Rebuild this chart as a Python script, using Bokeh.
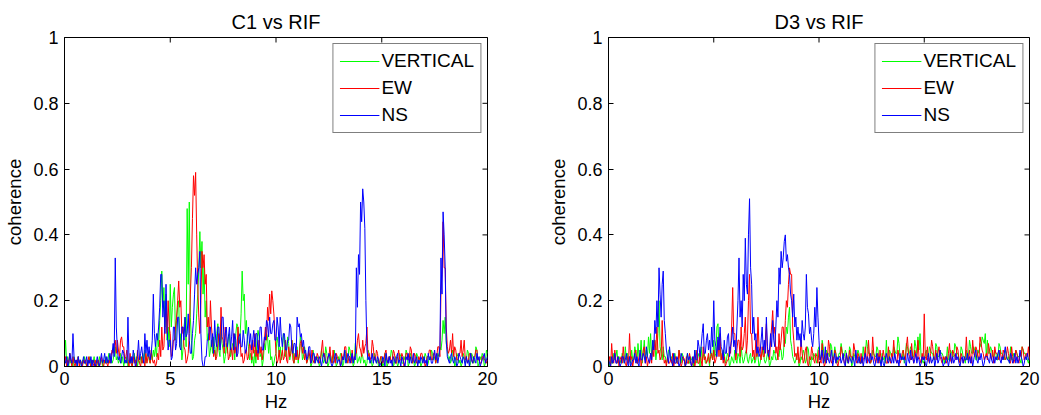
import math
from bokeh.plotting import figure
from bokeh.layouts import row
from bokeh.models import Range1d, FixedTicker
from bokeh.embed import file_html
from bokeh.resources import INLINE

# frequency grid (Hz), 0.05 Hz spacing
FREQ = [i / 20 for i in range(401)]

# coherence values in hundredths (0.01 units); one line per Hz
C1_VERTICAL = [
    2, 8, 1, 3, 0, 4, 1, 2, 0, 3, 1, 2, 0, 3, 1, 2, 0, 2, 1, 3,
    1, 0, 2, 1, 3, 0, 2, 1, 3, 0, 1, 2, 0, 3, 1, 2, 0, 2, 1, 3,
    1, 2, 4, 1, 3, 1, 2, 4, 6, 2, 3, 1, 2, 4, 1, 3, 0, 2, 1, 3,
    0, 2, 1, 3, 0, 2, 4, 1, 3, 0, 2, 1, 3, 1, 4, 2, 5, 1, 3, 4,
    2, 1, 4, 2, 5, 3, 6, 3, 10, 6, 14, 20, 29, 18, 24, 12, 22, 8, 12, 6,
    25, 12, 18, 22, 24, 8, 14, 18, 20, 6, 10, 2, 5, 12, 15, 6, 48, 25, 50, 15,
    8, 2, 3, 8, 10, 16, 22, 30, 41, 30, 38, 22, 30, 15, 20, 8, 10, 3, 5, 8,
    4, 9, 6, 2, 10, 13, 5, 3, 12, 7, 5, 1, 3, 7, 4, 9, 10, 3, 5, 7,
    6, 2, 10, 13, 12, 7, 9, 16, 29, 20, 22, 10, 14, 8, 6, 2, 4, 1, 3, 0,
    5, 1, 8, 11, 9, 3, 4, 0, 2, 7, 5, 10, 9, 4, 8, 2, 3, 0, 1, 3,
    4, 9, 7, 3, 6, 2, 4, 10, 8, 3, 5, 9, 7, 2, 4, 8, 6, 1, 3, 6,
    6, 1, 4, 9, 7, 2, 3, 6, 4, 1, 2, 4, 3, 0, 1, 5, 3, 1, 2, 3,
    2, 0, 1, 5, 3, 1, 2, 6, 4, 0, 1, 4, 3, 1, 2, 5, 3, 0, 1, 3,
    2, 4, 3, 0, 1, 5, 4, 1, 2, 6, 5, 2, 3, 0, 1, 7, 5, 1, 2, 3,
    1, 4, 3, 1, 2, 0, 1, 5, 4, 1, 2, 0, 1, 4, 3, 1, 2, 0, 1, 3,
    2, 0, 1, 4, 3, 0, 1, 3, 2, 5, 4, 0, 1, 3, 2, 0, 1, 4, 3, 1,
    1, 3, 2, 5, 4, 0, 1, 4, 3, 1, 2, 0, 1, 4, 3, 1, 2, 0, 1, 3,
    2, 4, 3, 0, 1, 3, 2, 5, 4, 2, 3, 1, 2, 4, 3, 6, 5, 8, 14, 10,
    15, 7, 5, 2, 3, 1, 2, 5, 4, 0, 1, 4, 3, 1, 2, 0, 1, 4, 3, 1,
    2, 5, 4, 0, 1, 4, 3, 1, 2, 6, 5, 0, 1, 3, 2, 4, 3, 0, 1, 5,
    4,
]
C1_EW = [
    1, 3, 0, 2, 1, 4, 2, 0, 3, 1, 0, 2, 1, 3, 0, 2, 1, 0, 2, 1,
    2, 0, 1, 3, 1, 0, 2, 1, 0, 2, 0, 1, 2, 0, 1, 3, 1, 0, 2, 1,
    1, 0, 2, 1, 3, 5, 4, 7, 8, 4, 8, 5, 3, 8, 9, 6, 6, 2, 3, 5,
    2, 0, 4, 1, 0, 3, 1, 2, 0, 5, 2, 1, 0, 3, 1, 2, 0, 4, 1, 3,
    3, 1, 5, 2, 1, 2, 0, 1, 4, 2, 8, 3, 12, 5, 6, 14, 18, 10, 20, 12,
    10, 3, 4, 8, 8, 12, 15, 20, 26, 18, 20, 10, 12, 6, 5, 1, 2, 4, 10, 22,
    30, 45, 58, 52, 59, 40, 25, 15, 10, 20, 35, 30, 34, 25, 28, 12, 15, 8, 20, 12,
    8, 3, 5, 2, 3, 7, 10, 6, 18, 9, 8, 4, 12, 6, 6, 2, 3, 6, 5, 2,
    10, 4, 6, 3, 12, 7, 8, 3, 4, 1, 2, 5, 5, 2, 3, 7, 6, 2, 8, 4,
    10, 3, 5, 2, 8, 4, 6, 2, 5, 8, 12, 8, 18, 14, 22, 16, 23, 20, 16, 10,
    4, 1, 2, 5, 1, 3, 5, 2, 3, 8, 2, 1, 6, 3, 4, 8, 2, 1, 4, 2,
    5, 2, 3, 7, 8, 4, 6, 2, 4, 1, 2, 5, 3, 1, 5, 2, 1, 3, 2, 4,
    3, 1, 2, 5, 8, 3, 4, 1, 1, 3, 3, 6, 2, 1, 5, 2, 1, 4, 3, 2,
    2, 0, 4, 2, 3, 6, 6, 2, 1, 3, 3, 1, 5, 2, 2, 4, 4, 8, 10, 6,
    5, 3, 8, 4, 6, 7, 12, 3, 4, 2, 3, 8, 6, 2, 2, 5, 4, 1, 1, 3,
    3, 1, 2, 4, 5, 2, 1, 3, 3, 1, 2, 5, 4, 1, 1, 3, 5, 2, 2, 4,
    3, 0, 1, 4, 4, 2, 2, 6, 5, 1, 2, 4, 3, 1, 1, 3, 2, 4, 4, 2,
    2, 0, 1, 3, 3, 5, 5, 2, 2, 4, 4, 1, 3, 6, 6, 3, 23, 28, 44, 30,
    30, 12, 6, 4, 5, 8, 4, 10, 3, 6, 5, 2, 2, 4, 4, 8, 3, 5, 8, 2,
    3, 1, 2, 4, 4, 2, 1, 3, 3, 5, 5, 2, 2, 1, 1, 3, 3, 2, 2, 1,
    2,
]
C1_NS = [
    2, 1, 3, 0, 1, 4, 2, 1, 10, 3, 1, 2, 0, 3, 1, 2, 0, 1, 3, 1,
    1, 3, 0, 2, 1, 3, 0, 2, 1, 0, 1, 3, 1, 0, 2, 4, 1, 2, 4, 1,
    3, 1, 2, 4, 1, 4, 7, 3, 33, 12, 5, 2, 3, 1, 3, 5, 4, 1, 2, 1,
    15, 2, 1, 3, 1, 5, 3, 0, 1, 3, 8, 2, 4, 6, 3, 1, 10, 4, 8, 3,
    6, 2, 4, 8, 22, 10, 6, 10, 8, 12, 18, 28, 28, 15, 20, 10, 25, 12, 5, 8,
    8, 2, 3, 12, 12, 5, 7, 15, 15, 6, 5, 12, 12, 8, 15, 9, 10, 16, 8, 4,
    4, 10, 14, 22, 30, 25, 28, 30, 35, 10, 2, 0, 0, 3, 3, 8, 8, 12, 12, 6,
    10, 4, 14, 8, 6, 12, 12, 5, 8, 15, 15, 6, 10, 12, 6, 9, 12, 5, 9, 14,
    5, 10, 8, 3, 4, 9, 10, 6, 6, 11, 8, 4, 5, 9, 12, 7, 10, 5, 8, 11,
    6, 10, 10, 4, 7, 12, 12, 5, 5, 9, 8, 14, 13, 9, 15, 10, 10, 13, 14, 8,
    8, 15, 12, 6, 15, 9, 6, 10, 10, 5, 5, 8, 8, 13, 12, 5, 4, 7, 7, 3,
    15, 12, 13, 9, 10, 6, 8, 4, 5, 2, 3, 6, 6, 1, 2, 4, 4, 1, 3, 2,
    1, 3, 2, 0, 2, 4, 3, 1, 1, 2, 4, 3, 1, 0, 1, 2, 4, 3, 1, 2,
    2, 0, 1, 3, 2, 5, 1, 2, 4, 3, 1, 2, 4, 1, 3, 2, 30, 18, 34, 28,
    50, 44, 54, 50, 42, 20, 5, 2, 3, 1, 2, 4, 1, 3, 2, 1, 3, 2, 0, 1,
    1, 3, 2, 0, 4, 2, 1, 3, 1, 2, 0, 3, 2, 1, 3, 4, 1, 2, 0, 3,
    2, 1, 0, 3, 2, 4, 1, 3, 1, 2, 4, 1, 2, 3, 0, 2, 1, 3, 2, 1,
    3, 1, 2, 0, 4, 2, 3, 1, 1, 3, 5, 2, 4, 1, 3, 6, 33, 22, 47, 40,
    30, 8, 3, 2, 1, 3, 4, 2, 1, 3, 2, 0, 1, 4, 3, 2, 1, 3, 2, 0,
    3, 1, 2, 0, 4, 2, 1, 3, 2, 1, 4, 2, 3, 0, 1, 2, 3, 4, 1, 2,
    3,
]

D3_VERTICAL = [
    2, 0, 3, 1, 1, 4, 2, 3, 5, 1, 3, 2, 1, 4, 3, 1, 6, 2, 4, 1,
    3, 1, 5, 2, 2, 6, 4, 1, 7, 3, 3, 8, 1, 4, 8, 2, 5, 3, 9, 4,
    10, 3, 6, 8, 8, 2, 5, 10, 20, 6, 4, 2, 6, 3, 3, 1, 2, 5, 5, 2,
    3, 0, 1, 4, 2, 1, 2, 5, 3, 1, 4, 3, 2, 0, 2, 4, 1, 1, 3, 2,
    2, 0, 5, 2, 1, 3, 4, 0, 6, 2, 3, 4, 1, 1, 2, 3, 0, 5, 3, 2,
    8, 3, 4, 12, 13, 5, 6, 2, 3, 5, 4, 1, 2, 4, 3, 0, 1, 3, 2, 1,
    5, 2, 1, 4, 3, 1, 6, 3, 1, 2, 4, 5, 2, 1, 3, 4, 1, 2, 3, 1,
    2, 5, 3, 0, 1, 3, 4, 6, 2, 1, 2, 4, 3, 0, 1, 3, 2, 5, 4, 2,
    2, 4, 3, 6, 5, 2, 3, 8, 7, 12, 10, 15, 18, 8, 6, 3, 2, 1, 2, 4,
    4, 0, 1, 3, 2, 5, 4, 1, 2, 6, 5, 1, 0, 3, 2, 4, 3, 2, 1, 5,
    6, 2, 3, 8, 6, 2, 1, 5, 4, 4, 3, 7, 6, 2, 3, 6, 4, 1, 2, 4,
    4, 7, 5, 2, 3, 5, 4, 1, 2, 6, 5, 0, 1, 4, 3, 2, 3, 5, 4, 1,
    2, 1, 6, 3, 3, 8, 6, 4, 4, 1, 2, 5, 4, 3, 3, 6, 5, 2, 2, 1,
    4, 2, 3, 1, 8, 2, 2, 5, 4, 3, 3, 6, 5, 4, 4, 9, 7, 3, 3, 2,
    5, 1, 2, 7, 6, 4, 4, 6, 5, 3, 3, 8, 6, 4, 9, 5, 10, 3, 2, 1,
    2, 4, 5, 3, 3, 6, 5, 4, 4, 2, 2, 7, 6, 3, 3, 5, 4, 4, 3, 1,
    3, 2, 6, 2, 2, 5, 4, 3, 3, 7, 6, 4, 4, 2, 2, 6, 5, 3, 3, 1,
    5, 2, 3, 8, 6, 4, 4, 6, 5, 2, 2, 5, 4, 7, 6, 9, 8, 7, 10, 3,
    8, 4, 4, 6, 5, 3, 3, 5, 4, 2, 2, 7, 6, 4, 4, 3, 2, 5, 4, 2,
    3, 1, 6, 2, 2, 4, 3, 5, 4, 3, 3, 2, 1, 6, 5, 4, 4, 3, 2, 1,
    3,
]
D3_EW = [
    1, 3, 0, 7, 2, 1, 5, 2, 1, 3, 0, 2, 3, 1, 6, 2, 1, 0, 3, 1,
    10, 2, 3, 0, 2, 4, 5, 1, 1, 3, 4, 0, 2, 5, 6, 1, 3, 0, 2, 1,
    4, 1, 6, 3, 8, 5, 12, 4, 5, 2, 3, 14, 4, 1, 2, 0, 3, 1, 1, 2,
    1, 4, 0, 2, 3, 1, 1, 5, 2, 0, 1, 3, 2, 0, 3, 1, 1, 4, 2, 0,
    1, 3, 0, 2, 5, 1, 1, 4, 2, 0, 6, 2, 3, 1, 2, 4, 1, 3, 4, 2,
    5, 1, 2, 4, 8, 3, 10, 2, 4, 1, 3, 0, 1, 2, 2, 6, 4, 12, 24, 10,
    10, 2, 5, 8, 8, 3, 12, 5, 6, 10, 15, 4, 8, 20, 28, 10, 10, 3, 5, 2,
    8, 3, 15, 6, 4, 2, 6, 3, 3, 8, 13, 4, 5, 2, 8, 12, 17, 10, 12, 4,
    6, 2, 10, 5, 8, 12, 12, 6, 14, 20, 18, 25, 30, 28, 28, 12, 8, 3, 4, 2,
    6, 1, 3, 8, 4, 1, 2, 5, 6, 1, 0, 3, 2, 6, 4, 2, 1, 4, 3, 1,
    5, 2, 1, 7, 3, 0, 1, 4, 2, 8, 6, 2, 1, 3, 2, 5, 4, 1, 0, 2,
    2, 6, 4, 3, 1, 1, 4, 2, 1, 5, 3, 3, 2, 7, 5, 2, 1, 4, 3, 1,
    4, 1, 2, 3, 6, 2, 1, 8, 3, 1, 2, 9, 4, 2, 1, 3, 4, 1, 5, 2,
    2, 5, 3, 3, 1, 1, 6, 2, 1, 4, 3, 8, 3, 2, 1, 5, 3, 1, 2, 4,
    5, 3, 2, 6, 9, 4, 3, 2, 7, 3, 1, 5, 4, 2, 8, 3, 2, 1, 4, 2,
    16, 3, 2, 6, 2, 1, 4, 8, 6, 3, 2, 5, 2, 4, 6, 3, 2, 1, 3, 2,
    3, 1, 2, 4, 7, 2, 1, 5, 4, 3, 2, 6, 5, 2, 1, 4, 3, 1, 2, 3,
    9, 3, 2, 5, 2, 1, 8, 4, 3, 6, 5, 3, 2, 9, 7, 5, 4, 2, 3, 4,
    2, 7, 5, 3, 2, 5, 1, 6, 4, 4, 3, 2, 5, 3, 2, 5, 4, 2, 3, 6,
    4, 2, 1, 6, 3, 1, 2, 5, 4, 2, 1, 4, 3, 6, 5, 2, 3, 4, 3, 6,
    2,
]
D3_NS = [
    2, 1, 0, 3, 1, 2, 4, 1, 1, 3, 2, 0, 1, 3, 3, 1, 2, 4, 1, 0,
    3, 0, 1, 2, 2, 4, 1, 3, 1, 0, 5, 2, 2, 4, 3, 1, 6, 3, 2, 1,
    4, 2, 8, 5, 14, 10, 20, 12, 30, 22, 15, 25, 29, 14, 10, 5, 3, 1, 6, 2,
    2, 0, 4, 1, 1, 3, 2, 0, 1, 4, 3, 2, 2, 0, 1, 4, 2, 3, 1, 0,
    3, 1, 5, 2, 2, 8, 6, 3, 6, 10, 13, 4, 4, 8, 10, 5, 8, 4, 12, 6,
    20, 8, 6, 3, 9, 5, 12, 6, 5, 2, 8, 4, 4, 9, 10, 3, 6, 8, 12, 6,
    8, 4, 12, 20, 33, 15, 20, 12, 28, 20, 39, 25, 22, 40, 51, 30, 25, 10, 15, 8,
    10, 4, 6, 3, 4, 8, 12, 5, 8, 4, 15, 6, 3, 5, 10, 6, 14, 8, 6, 12,
    20, 15, 30, 25, 35, 30, 33, 38, 40, 32, 34, 30, 28, 22, 20, 15, 22, 12, 15, 8,
    12, 8, 10, 6, 14, 10, 8, 12, 28, 18, 16, 10, 12, 8, 6, 10, 18, 12, 24, 15,
    8, 2, 3, 5, 1, 2, 6, 1, 4, 2, 1, 3, 5, 0, 2, 4, 1, 3, 2, 3,
    3, 1, 2, 4, 1, 0, 4, 2, 1, 3, 2, 1, 3, 2, 0, 5, 2, 1, 3, 1,
    1, 3, 0, 2, 4, 1, 3, 2, 1, 4, 2, 3, 1, 0, 2, 4, 1, 3, 2, 0,
    3, 1, 0, 2, 4, 2, 1, 3, 2, 1, 3, 1, 4, 2, 1, 2, 0, 4, 2, 3,
    2, 3, 1, 0, 4, 2, 1, 5, 2, 3, 1, 2, 4, 1, 3, 2, 0, 1, 3, 2,
    3, 1, 0, 2, 4, 1, 3, 1, 2, 3, 0, 2, 4, 1, 2, 5, 3, 2, 0, 1,
    1, 3, 2, 0, 2, 4, 1, 3, 1, 2, 4, 2, 3, 1, 0, 2, 3, 1, 3, 2,
    2, 4, 1, 3, 1, 3, 0, 2, 4, 5, 2, 1, 3, 2, 4, 2, 0, 1, 3, 3,
    3, 2, 1, 4, 2, 1, 3, 1, 3, 2, 4, 5, 2, 1, 3, 2, 4, 6, 3, 2,
    2, 1, 4, 3, 1, 2, 4, 1, 3, 1, 2, 5, 3, 2, 0, 1, 3, 2, 4, 2,
    2,
]

SERIES_NAMES = ["VERTICAL", "EW", "NS"]
SERIES_COLORS = ["#00ff00", "#ff0000", "#0000ff"]
X_TICKS = [0, 5, 10, 15, 20]
Y_TICKS = [0, 0.2, 0.4, 0.6, 0.8, 1]
Y_LABELS = {0: "0", 0.2: "0.2", 0.4: "0.4", 0.6: "0.6", 0.8: "0.8", 1: "1"}

FONT = "Liberation Sans"


def style_axis(ax, ticks):
    ax.ticker = FixedTicker(ticks=ticks)
    ax.major_tick_in = 5
    ax.major_tick_out = 0
    ax.minor_tick_line_color = None
    ax.axis_line_color = "black"
    ax.major_tick_line_color = "black"
    ax.major_label_text_font = FONT
    ax.major_label_text_color = "black"
    ax.axis_label_text_font = FONT
    ax.axis_label_text_font_style = "normal"
    ax.axis_label_text_color = "black"
    ax.major_label_text_font_size = "18px"
    ax.axis_label_text_font_size = "18.5px"


def make_panel(title, series, width, left, right):
    p = figure(width=width, height=415, output_backend="svg", toolbar_location=None,
               x_range=Range1d(X_TICKS[0], X_TICKS[-1]),
               y_range=Range1d(Y_TICKS[0], Y_TICKS[-1]),
               min_border_left=left, min_border_right=right,
               min_border_top=37, min_border_bottom=49,
               x_axis_label="Hz", y_axis_label="coherence")
    p.title.text = title
    p.title.align = "center"
    p.title.text_font = FONT
    p.title.text_font_size = "20px"
    p.title.text_font_style = "normal"
    p.title.text_color = "black"
    p.xgrid.visible = False
    p.ygrid.visible = False
    p.outline_line_color = "black"
    p.background_fill_color = "white"
    p.border_fill_color = "white"

    n = len(FREQ)
    for vals, name, color in zip(series, SERIES_NAMES, SERIES_COLORS):
        m = min(n, len(vals))
        p.line(FREQ[:m], [v / 100 for v in vals[:m]], line_color=color, line_width=1,
               legend_label=name)

    style_axis(p.xaxis[0], X_TICKS)
    style_axis(p.yaxis[0], Y_TICKS)
    p.yaxis[0].major_label_overrides = Y_LABELS
    p.xaxis[0].major_label_standoff = 5
    p.yaxis[0].major_label_standoff = 6
    p.xaxis[0].axis_label_standoff = 3
    p.yaxis[0].axis_label_standoff = 5

    # inward tick marks on the top and right edges of the box (clipped to the frame)
    p.scatter(X_TICKS, [Y_TICKS[-1]] * len(X_TICKS), marker="dash", angle=math.pi / 2,
              size=10, line_color="black", line_width=1)
    p.scatter([X_TICKS[-1]] * len(Y_TICKS), Y_TICKS, marker="dash",
              size=10, line_color="black", line_width=1)

    lg = p.legend[0]
    lg.location = "top_right"
    lg.margin = 6
    lg.padding = 6
    lg.spacing = 5
    lg.glyph_width = 40
    lg.glyph_height = 20
    lg.label_height = 20
    lg.label_standoff = 2
    lg.label_text_font = FONT
    lg.label_text_font_size = "19px"
    lg.label_text_color = "black"
    lg.border_line_color = "black"
    lg.border_line_width = 1
    lg.background_fill_color = "white"
    lg.background_fill_alpha = 1
    return p


for _name, _s in [("C1_VERTICAL", C1_VERTICAL), ("C1_EW", C1_EW), ("C1_NS", C1_NS),
                  ("D3_VERTICAL", D3_VERTICAL), ("D3_EW", D3_EW), ("D3_NS", D3_NS)]:
    print(_name, len(_s))

p1 = make_panel("C1 vs RIF", [C1_VERTICAL, C1_EW, C1_NS], 520, 64, 33)
p2 = make_panel("D3 vs RIF", [D3_VERTICAL, D3_EW, D3_NS], 521, 88, 12)

layout = row(p1, p2, spacing=0)
open("out.html", "w").write(file_html(layout, INLINE))
